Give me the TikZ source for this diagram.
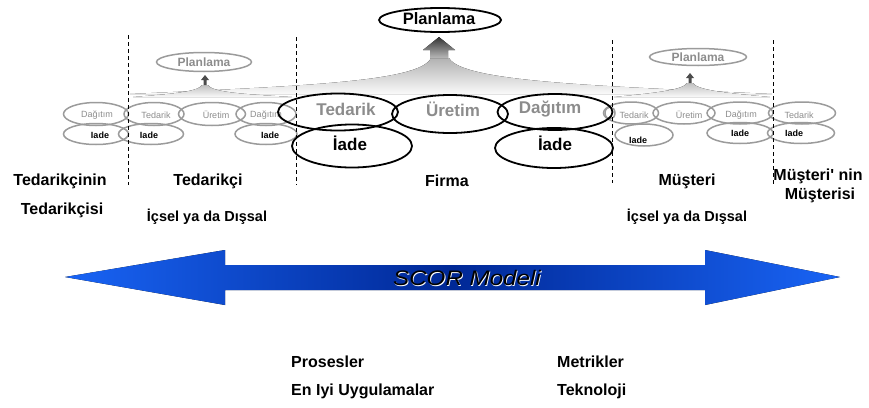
\documentclass[tikz,border=0pt]{standalone}
\usepackage{fontspec}
\setmainfont{Liberation Sans}[Ligatures=TeXOff]
\usetikzlibrary{shapes.geometric}
\definecolor{softgray}{RGB}{155,155,155}
\definecolor{txtgray}{RGB}{140,140,140}
\definecolor{arrowblue}{RGB}{25,100,245}
\definecolor{arrowdark}{RGB}{0,40,150}
\tikzset{
  bigell/.style={ellipse, draw=black, line width=1.8pt, inner sep=0pt},
  smallell/.style={ellipse, draw=softgray, line width=1.5pt, inner sep=0pt},
  bigtxt/.style={font=\fontsize{17}{19}\selectfont\bfseries, text=txtgray, inner sep=0pt},
  bigiade/.style={font=\fontsize{17}{19}\selectfont\bfseries, text=black, inner sep=0pt},
  smalltxt/.style={font=\fontsize{9}{11}\selectfont, text=txtgray, inner sep=0pt},
  smalliade/.style={font=\fontsize{9}{11}\selectfont\bfseries, text=black, inner sep=0pt},
  lbl/.style={font=\fontsize{16}{18}\selectfont\bfseries, inner sep=0pt},
  sublbl/.style={font=\fontsize{14.5}{16}\selectfont\bfseries, inner sep=0pt},
  divider/.style={black, line width=0.9pt, dash pattern=on 4pt off 3pt},
}
\begin{document}
\begin{tikzpicture}[x=1pt, y=-1pt]
\useasboundingbox (0,0) rectangle (869,407);

% fans rising towards the planning level
\fill[top color=gray!60, bottom color=gray!4]
  (431,58) .. controls (420,82) and (300,86) .. (130,94) -- (772,94)
  .. controls (600,86) and (462,82) .. (449,58) -- cycle;
\fill[top color=gray!50, bottom color=gray!4]
  (202,85) .. controls (198,92) and (170,94) .. (133,97) -- (292,97)
  .. controls (240,94) and (212,92) .. (208,85) -- cycle;
\fill[top color=gray!50, bottom color=gray!4]
  (687,83) .. controls (683,90) and (655,93) .. (614,97) -- (770,97)
  .. controls (725,93) and (697,90) .. (693,83) -- cycle;

% upward arrows to planning
\fill[top color=gray!40!black, bottom color=gray!55]
  (430,58) -- (430,50) -- (423,50) -- (439,37) -- (455,50) -- (448,50) -- (448,58) -- cycle;
\fill[gray!60!black] (203.5,85) -- (203.5,80) -- (201,80) -- (205,75) -- (209,80) -- (206.5,80) -- (206.5,85) -- cycle;
\fill[gray!60!black] (688.5,83) -- (688.5,78) -- (686,78) -- (690,73) -- (694,78) -- (691.5,78) -- (691.5,83) -- cycle;

% planning ellipses
\node[ellipse, draw=black, line width=1.8pt, minimum width=122pt, minimum height=24pt, inner sep=0pt] (planmain) at (440,20) {};
\node[font=\fontsize{16.5}{18}\selectfont\bfseries] (planmaintxt) at (439,19) {Planlama};
\node[smallell, minimum width=95pt, minimum height=19pt] (planleft) at (204,62) {};
\node[font=\fontsize{12}{14}\selectfont\bfseries, text=txtgray] (planlefttxt) at (204,62) {Planlama};
\node[smallell, minimum width=97pt, minimum height=17pt] (planright) at (698,57) {};
\node[font=\fontsize{12}{14}\selectfont\bfseries, text=txtgray] (planrighttxt) at (698,57) {Planlama};

% supplier side process chain
\node[smallell, minimum width=65pt, minimum height=23pt] (ld1) at (96,114) {};
\node[smallell, minimum width=60pt, minimum height=23pt] (lt1) at (154,114) {};
\node[smallell, minimum width=67pt, minimum height=23pt] (lu1) at (212,114) {};
\node[smallell, minimum width=60pt, minimum height=23pt] (ld2) at (266,114) {};
\node[smallell, minimum width=65pt, minimum height=21pt] (li1) at (96,134) {};
\node[smallell, minimum width=65pt, minimum height=21pt] (li2) at (151,134) {};
\node[smallell, minimum width=62pt, minimum height=21pt] (li3) at (266,134) {};
\node[smalltxt] (ld1t) at (97,115) {Dağıtım};
\node[smalltxt] (lt1t) at (156,115) {Tedarik};
\node[smalltxt] (lu1t) at (216,115) {Üretim};
\node[smalltxt] (ld2t) at (266,115) {Dağıtım};
\node[smalliade] (li1t) at (100,135) {Iade};
\node[smalliade] (li2t) at (149,135) {Iade};
\node[smalliade] (li3t) at (270,135) {Iade};

% customer side process chain
\node[smallell, minimum width=10pt, minimum height=12pt] (rlens) at (610,113) {};
\node[smallell, minimum width=55pt, minimum height=22pt] (rt1) at (631,113) {};
\node[smallell, minimum width=62pt, minimum height=22pt] (ru1) at (684,113) {};
\node[smallell, minimum width=66pt, minimum height=22pt] (rd1) at (740,113) {};
\node[smallell, minimum width=67pt, minimum height=22pt] (rt2) at (802,113) {};
\node[smallell, minimum width=58pt, minimum height=22pt] (ri1) at (644,135) {};
\node[smallell, minimum width=66pt, minimum height=21pt] (ri2) at (740,133) {};
\node[smallell, minimum width=67pt, minimum height=21pt] (ri3) at (801,133) {};
\node[smalltxt] (rt1t) at (634,115) {Tedarik};
\node[smalltxt] (ru1t) at (689,115) {Üretim};
\node[smalltxt] (rd1t) at (741,115) {Dağıtım};
\node[smalltxt] (rt2t) at (799,115) {Tedarik};
\node[smalliade] (ri1t) at (638,140) {Iade};
\node[smalliade] (ri2t) at (740,133) {Iade};
\node[smalliade] (ri3t) at (794,133) {Iade};

% the firm's own process chain
\node[bigell, minimum width=120pt, minimum height=37pt] (ftd) at (338,112) {};
\node[bigell, minimum width=116pt, minimum height=38pt] (fur) at (450,114) {};
\node[bigell, minimum width=115pt, minimum height=36pt] (fdg) at (555,112) {};
\node[bigell, minimum width=120pt, minimum height=43pt] (fi1) at (352,146) {};
\node[bigell, minimum width=118pt, minimum height=40pt] (fi2) at (554,148) {};
\node[bigtxt] (ftdt) at (346,109) {Tedarik};
\node[bigtxt] (furt) at (453,109) {Üretim};
\node[bigtxt] (fdgt) at (550,109) {Dağıtım};
\node[bigiade] (fi1t) at (350,143) {İade};
\node[bigiade] (fi2t) at (555,143) {İade};

% boundaries between the chain members
\coordinate (b1t) at (128,35);  \coordinate (b1b) at (128,185);
\coordinate (b2t) at (296,37);  \coordinate (b2b) at (296,185);
\coordinate (b3t) at (612,40);  \coordinate (b3b) at (612,183);
\coordinate (b4t) at (773,40);  \coordinate (b4b) at (773,185);
\draw[divider] (b1t) -- (b1b);
\draw[divider] (b2t) -- (b2b);
\draw[divider] (b3t) -- (b3b);
\draw[divider] (b4t) -- (b4b);

% chain member labels
\node[lbl] (l1a) at (60,181) {Tedarikçinin};
\node[lbl] (l1b) at (62,210) {Tedarikçisi};
\node[lbl] (l2) at (208,181) {Tedarikçi};
\node[sublbl] (l2s) at (207,217) {İçsel ya da Dışsal};
\node[lbl] (l3) at (447,181) {Firma};
\node[lbl] (l4) at (687,181) {Müşteri};
\node[sublbl] (l4s) at (687,217) {İçsel ya da Dışsal};
\node[lbl] (l5a) at (818,176) {Müşteri' nin};
\node[lbl] (l5b) at (820,195) {Müşterisi};

% SCOR model double arrow
\fill[left color=arrowblue, right color=arrowblue, middle color=arrowdark]
  (65,277) -- (225,250) -- (225,265) -- (705,265) -- (705,250) -- (840,277)
  -- (705,305) -- (705,290) -- (225,290) -- (225,305) -- cycle;
\node[font=\fontsize{21}{23}\selectfont\itshape, text=white] (scorlight) at (467.8,278.8) {\scalebox{1.15}[1]{SCOR Modeli}};
\node[font=\fontsize{21}{23}\selectfont\itshape, text=black] (scor) at (467,278) {\scalebox{1.15}[1]{SCOR Modeli}};

% SCOR components
\node[lbl, anchor=west] (p1) at (291,362) {Prosesler};
\node[lbl, anchor=west] (p2) at (291,391) {En Iyi Uygulamalar};
\node[lbl, anchor=west] (p3) at (557,362) {Metrikler};
\node[lbl, anchor=west] (p4) at (557,391) {Teknoloji};
\end{tikzpicture}
\end{document}
